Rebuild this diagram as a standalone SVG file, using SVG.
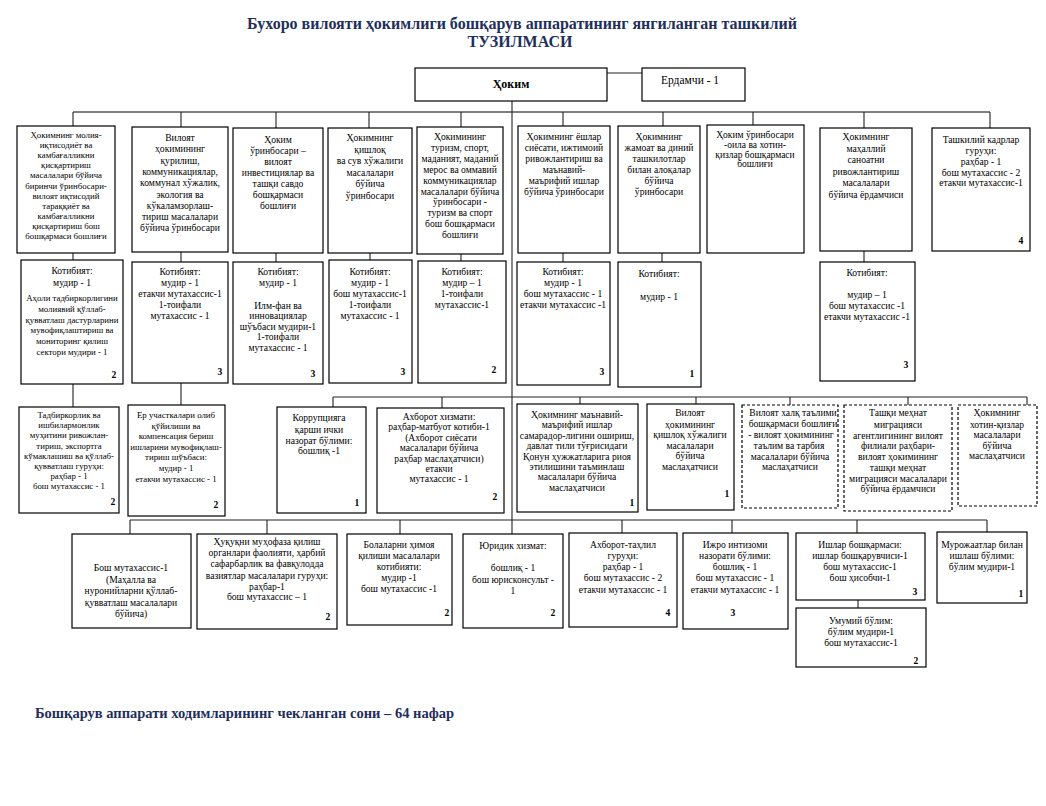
<svg xmlns="http://www.w3.org/2000/svg" width="1046" height="806" viewBox="0 0 1046 806">
<style>
text{font-family:"Liberation Serif","Times New Roman",serif;fill:#000;}
.t{font-size:9.6px;text-anchor:middle;}
.s{font-size:8.8px;text-anchor:middle;}
.n{font-size:9.6px;font-weight:bold;text-anchor:middle;}
.title{font-size:16px;font-weight:bold;fill:#1f2f5c;text-anchor:middle;}
.foot{font-size:14.5px;font-weight:bold;fill:#1f2f5c;}
rect{fill:#fff;stroke:#000;stroke-width:1.2;}
rect.d{stroke-dasharray:3,2;}
#connectors path{fill:none;stroke:#222;stroke-width:1.1;}
</style>
<defs>
<clipPath id="clipC7"><rect x="742" y="405" width="96" height="103"/></clipPath>
</defs>
<rect x="0" y="0" width="1046" height="806" style="fill:#fff;stroke:none"/>
<text class="title" x="522" y="29">Бухоро вилояти ҳокимлиги бошқарув аппаратининг  янгиланган ташкилий</text>
<text class="title" x="520" y="47">ТУЗИЛМАСИ</text>

<g id="connectors">
<path d="M73,112 H990" style="stroke:#555;stroke-width:1.6"/>
<path d="M512,101 V534"/>
<path d="M607,73 H642"/>
<path d="M73,112 V128 M181,112 V128 M276,112 V128 M369,112 V128 M461,112 V128 M563,112 V128 M663,112 V128 M753,112 V128 M864,112 V128 M990,112 V128"/>
<path d="M73,253 V262 M181,252 V262 M276,253 V262 M370,253 V262 M461,254 V262 M563,253 V262 M662,253 V262 M864,251 V262"/>
<path d="M73,384 V407 M181,383 V405"/>
<path d="M333,397 H1027 M333,397 V407 M442,397 V408 M580,397 V404 M696,397 V404 M790,397 V405 M908,397 V405 M1027,397 V405"/>
<path d="M130,520 H987 M130,520 V534 M267,520 V534 M400,520 V534 M622,520 V533 M732,520 V533 M857,520 V533 M987,520 V532"/>
<path d="M858,600 V608"/>
</g>

<g id="hokim"><rect x="415" y="68" width="192" height="33"/><text x="511" y="88" style="font-size:12px;font-weight:bold;text-anchor:middle">Ҳоким</text></g>
<g id="yordamchi"><rect x="642" y="68" width="103" height="33"/><text x="661" y="84" style="font-size:11.5px">Ердамчи - 1</text></g>

<!-- Row 1 -->
<g id="r1b1"><rect x="17" y="126" width="98" height="127"/>
<text class="s" x="66" y="138"><tspan x="66">Ҳокимнинг молия-</tspan><tspan x="66" dy="10.1">иқтисодиёт ва</tspan><tspan x="66" dy="10.1">камбағалликни</tspan><tspan x="66" dy="10.1">қисқартириш</tspan><tspan x="66" dy="10.1">масалалари бўйича</tspan><tspan x="66" dy="10.1">биринчи ўринбосари-</tspan><tspan x="66" dy="10.1">вилоят иқтисодий</tspan><tspan x="66" dy="10.1">тараққиёт ва</tspan><tspan x="66" dy="10.1">камбағалликни</tspan><tspan x="66" dy="10.1">қисқартириш бош</tspan><tspan x="66" dy="10.1">бошқармаси бошлиғи</tspan></text></g>
<g id="r1b2"><rect x="132" y="127" width="96" height="125"/>
<text class="t" x="180" y="141"><tspan x="180">Вилоят</tspan><tspan x="180" dy="11.3">ҳокимининг</tspan><tspan x="180" dy="11.3">қурилиш,</tspan><tspan x="180" dy="11.3">коммуникациялар,</tspan><tspan x="180" dy="11.3">коммунал хўжалик,</tspan><tspan x="180" dy="11.3">экология ва</tspan><tspan x="180" dy="11.3">кўкаламзорлаш-</tspan><tspan x="180" dy="11.3">тириш масалалари</tspan><tspan x="180" dy="11.3">бўйича ўринбосари</tspan></text></g>
<g id="r1b3"><rect x="233" y="128" width="90" height="125"/>
<text class="t" x="278" y="143"><tspan x="278">Ҳоким</tspan><tspan x="278" dy="11">ўринбосари –</tspan><tspan x="278" dy="11">вилоят</tspan><tspan x="278" dy="11">инвестициялар ва</tspan><tspan x="278" dy="11">ташқи савдо</tspan><tspan x="278" dy="11">бошқармаси</tspan><tspan x="278" dy="11">бошлиғи</tspan></text></g>
<g id="r1b4"><rect x="328" y="128" width="84" height="125"/>
<text class="t" x="370" y="141"><tspan x="370">Ҳокимнинг</tspan><tspan x="370" dy="11.5">қишлоқ</tspan><tspan x="370" dy="11.5">ва сув хўжалиги</tspan><tspan x="370" dy="11.5">масалалари</tspan><tspan x="370" dy="11.5">бўйича</tspan><tspan x="370" dy="11.5">ўринбосари</tspan></text></g>
<g id="r1b5"><rect x="417" y="127" width="86" height="127"/>
<text class="t" x="460" y="140"><tspan x="460">Ҳокимининг</tspan><tspan x="460" dy="10.9">туризм, спорт,</tspan><tspan x="460" dy="10.9">маданият, маданий</tspan><tspan x="460" dy="10.9">мерос ва оммавий</tspan><tspan x="460" dy="10.9">коммуникациялар</tspan><tspan x="460" dy="10.9">масалалари бўйича</tspan><tspan x="460" dy="10.9">ўринбосари -</tspan><tspan x="460" dy="10.9">туризм ва спорт</tspan><tspan x="460" dy="10.9">бош бошқармаси</tspan><tspan x="460" dy="10.9">бошлиғи</tspan></text></g>
<g id="r1b6"><rect x="518" y="126" width="92" height="127"/>
<text class="t" x="564" y="140"><tspan x="564">Ҳокимнинг ёшлар</tspan><tspan x="564" dy="11">сиёсати, ижтимоий</tspan><tspan x="564" dy="11">ривожлантириш ва</tspan><tspan x="564" dy="11">маънавий-</tspan><tspan x="564" dy="11">маърифий ишлар</tspan><tspan x="564" dy="11">бўйича ўринбосари</tspan></text></g>
<g id="r1b7"><rect x="618" y="126" width="82" height="127"/>
<text class="t" x="659" y="140"><tspan x="659">Ҳокимнинг</tspan><tspan x="659" dy="11">жамоат ва диний</tspan><tspan x="659" dy="11">ташкилотлар</tspan><tspan x="659" dy="11">билан алоқалар</tspan><tspan x="659" dy="11">бўйича</tspan><tspan x="659" dy="11">ўринбосари</tspan></text></g>
<g id="r1b8"><rect x="707" y="125" width="97" height="128"/>
<text x="755" y="138" style="font-size:9.5px;text-anchor:middle"><tspan x="755">Ҳоким ўринбосари</tspan><tspan x="755" dy="9.8">-оила ва хотин-</tspan><tspan x="755" dy="9.8">қизлар бошқармаси</tspan><tspan x="755" dy="9.8">бошлиғи</tspan></text></g>
<g id="r1b9"><rect x="820" y="128" width="92" height="123"/>
<text class="t" x="866" y="140"><tspan x="866">Ҳокимнинг</tspan><tspan x="866" dy="11.5">маҳаллий</tspan><tspan x="866" dy="11.5">саноатни</tspan><tspan x="866" dy="11.5">ривожлантириш</tspan><tspan x="866" dy="11.5">масалалари</tspan><tspan x="866" dy="11.5">бўйича ёрдамчиси</tspan></text></g>
<g id="r1b10"><rect x="932" y="128" width="98" height="123"/>
<text class="t" x="981" y="143"><tspan x="981">Ташкилий кадрлар</tspan><tspan x="981" dy="11">гуруҳи:</tspan><tspan x="981" dy="11">раҳбар - 1</tspan><tspan x="981" dy="10.5">бош мутахассис - 2</tspan><tspan x="981" dy="10.5">етакчи мутахассис-1</tspan></text>
<text class="n" x="1021" y="244">4</text></g>

<!-- Row 2 -->
<g id="r2b1"><rect x="21" y="260" width="102" height="124"/>
<text class="t" x="72" y="274"><tspan x="72">Котибият:</tspan><tspan x="72" dy="11.5">мудир - 1</tspan></text>
<text class="s" x="72" y="301"><tspan x="72">Аҳоли тадбиркорлигини</tspan><tspan x="72" dy="10.8">молиявий қўллаб-</tspan><tspan x="72" dy="10.8">қувватлаш дастурларини</tspan><tspan x="72" dy="10.8">мувофиқлаштириш ва</tspan><tspan x="72" dy="10.8">мониторинг қилиш</tspan><tspan x="72" dy="10.8">сектори мудири - 1</tspan></text>
<text class="n" x="114" y="378">2</text></g>
<g id="r2b2"><rect x="132" y="262" width="96" height="121"/>
<text class="t" x="180" y="274.5"><tspan x="180">Котибият:</tspan><tspan x="180" dy="11">мудир - 1</tspan><tspan x="180" dy="11">етакчи мутахассис-1</tspan><tspan x="180" dy="11.5">1-тоифали</tspan><tspan x="180" dy="10.5">мутахассис - 1</tspan></text>
<text class="n" x="220" y="375">3</text></g>
<g id="r2b3"><rect x="233" y="262" width="90" height="122"/>
<text class="t" x="278" y="274.5"><tspan x="278">Котибият:</tspan><tspan x="278" dy="11">мудир - 1</tspan><tspan x="278" dy="23">Илм-фан ва</tspan><tspan x="278" dy="10.5">инновациялар</tspan><tspan x="278" dy="10.5">шўъбаси мудири-1</tspan><tspan x="278" dy="10.5">1-тоифали</tspan><tspan x="278" dy="10.5">мутахассис - 1</tspan></text>
<text class="n" x="313" y="377">3</text></g>
<g id="r2b4"><rect x="329" y="260" width="83" height="123"/>
<text class="t" x="370" y="274.5"><tspan x="370">Котибият:</tspan><tspan x="370" dy="11">мудир - 1</tspan><tspan x="370" dy="11">бош мутахассис-1</tspan><tspan x="370" dy="11.5">1-тоифали</tspan><tspan x="370" dy="10.5">мутахассис - 1</tspan></text>
<text class="n" x="403" y="375">3</text></g>
<g id="r2b5"><rect x="418" y="261" width="88" height="122"/>
<text class="t" x="462" y="274.5"><tspan x="462">Котибият:</tspan><tspan x="462" dy="11">мудир – 1</tspan><tspan x="462" dy="11">1-тоифали</tspan><tspan x="462" dy="11.5">мутахассис-1</tspan></text>
<text class="n" x="494" y="373">2</text></g>
<g id="r2b6"><rect x="517" y="262" width="93" height="123"/>
<text class="t" x="563" y="274.5"><tspan x="563">Котибият:</tspan><tspan x="563" dy="11">мудир - 1</tspan><tspan x="563" dy="11">бош мутахассис - 1</tspan><tspan x="563" dy="11">етакчи мутахассис -1</tspan></text>
<text class="n" x="602" y="375">3</text></g>
<g id="r2b7"><rect x="618" y="262" width="83" height="125"/>
<text class="t" x="659" y="277"><tspan x="659">Котибият:</tspan><tspan x="659" dy="22.5">мудир - 1</tspan></text>
<text class="n" x="692" y="377">1</text></g>
<g id="r2b8"><rect x="820" y="262" width="95" height="119"/>
<text class="t" x="867" y="276"><tspan x="867">Котибият:</tspan><tspan x="867" dy="22">мудир – 1</tspan><tspan x="867" dy="11">бош мутахассис -1</tspan><tspan x="867" dy="10.5">етакчи мутахассис -1</tspan></text>
<text class="n" x="906" y="368">3</text></g>

<!-- Row 3 -->
<g id="r3b1"><rect x="19" y="407" width="100" height="106"/>
<text class="s" x="69" y="418"><tspan x="69">Тадбиркорлик ва</tspan><tspan x="69" dy="10.2">ишбилармонлик</tspan><tspan x="69" dy="10.2">муҳитини ривожлан-</tspan><tspan x="69" dy="10.2">тириш, экспортга</tspan><tspan x="69" dy="10.2">кўмаклашиш ва қўллаб-</tspan><tspan x="69" dy="10.2">қувватлаш гуруҳи:</tspan><tspan x="69" dy="10.2">раҳбар - 1</tspan><tspan x="69" dy="10.2">бош мутахассис - 1</tspan></text>
<text class="n" x="113" y="505">2</text></g>
<g id="r3b2"><rect x="128" y="405" width="97" height="111"/>
<text class="s" x="176" y="418"><tspan x="176">Ер участкалари олиб</tspan><tspan x="176" dy="10.6">қўйилиши ва</tspan><tspan x="176" dy="10.6">компенсация бериш</tspan><tspan x="176" dy="10.6">ишларини мувофиқлаш-</tspan><tspan x="176" dy="10.6">тириш шўъбаси:</tspan><tspan x="176" dy="10.6">мудир - 1</tspan><tspan x="176" dy="10.6">етакчи мутахассис - 1</tspan></text>
<text class="n" x="216" y="508">2</text></g>
<g id="r3b3"><rect x="277" y="407" width="89" height="106"/>
<text class="t" x="319" y="421"><tspan x="319">Коррупцияга</tspan><tspan x="319" dy="11.5">қарши ички</tspan><tspan x="319" dy="11">назорат бўлими:</tspan><tspan x="319" dy="10.5">бошлиқ -1</tspan></text>
<text class="n" x="357" y="506">1</text></g>
<g id="r3b4"><rect x="377" y="408" width="127" height="105"/>
<text class="t" x="439" y="420"><tspan x="439">Ахборот хизмати:</tspan><tspan x="439" dy="10.4">раҳбар-матбуот котиби-1</tspan><tspan x="441" dy="10.4">(Ахборот сиёсати</tspan><tspan x="439" dy="10.4">масалалари бўйича</tspan><tspan x="439" dy="10.4">раҳбар маслаҳатчиси)</tspan><tspan x="439" dy="10.4">етакчи</tspan><tspan x="439" dy="10.4">мутахассис - 1</tspan></text>
<text class="n" x="495" y="500">2</text></g>
<g id="r3b5"><rect x="517" y="404" width="121" height="108"/>
<text class="t" x="577" y="418"><tspan x="577">Ҳокимнинг маънавий-</tspan><tspan x="577" dy="10.4">маърифий ишлар</tspan><tspan x="577" dy="10.4">самарадор-лигини ошириш,</tspan><tspan x="577" dy="10.4">давлат тили тўғрисидаги</tspan><tspan x="577" dy="10.4">Қонун ҳужжатларига риоя</tspan><tspan x="577" dy="10.4">этилишини таъминлаш</tspan><tspan x="577" dy="10.4">масалалари бўйича</tspan><tspan x="577" dy="10.4">маслаҳатчиси</tspan></text>
<text class="n" x="632" y="506">1</text></g>
<g id="r3b6"><rect x="647" y="404" width="87" height="106"/>
<text class="t" x="690" y="416"><tspan x="690">Вилоят</tspan><tspan x="690" dy="11.5">ҳокимининг</tspan><tspan x="690" dy="10.5">қишлоқ хўжалиги</tspan><tspan x="690" dy="10.5">масалалари</tspan><tspan x="690" dy="10.5">бўйича</tspan><tspan x="690" dy="10.5">маслаҳатчиси</tspan></text>
<text class="n" x="727" y="497">1</text></g>
<g id="r3b7"><rect class="d" x="742" y="405" width="96" height="103"/>
<text class="t" x="793" y="416" clip-path="url(#clipC7)"><tspan x="793">Вилоят халқ таълими</tspan><tspan x="793" dy="11">бошқармаси бошлиғи</tspan><tspan x="791" dy="11">- вилоят ҳокимининг</tspan><tspan x="789" dy="11">таълим ва тарбия</tspan><tspan x="790" dy="10.5">масалалари бўйича</tspan><tspan x="790" dy="10.5">маслаҳатчиси</tspan></text></g>
<g id="r3b8"><rect class="d" x="844" y="405" width="108" height="106"/>
<text class="t" x="898" y="416"><tspan x="898">Ташқи меҳнат</tspan><tspan x="898" dy="11.5">миграцияси</tspan><tspan x="898" dy="11">агентлигининг вилоят</tspan><tspan x="898" dy="10.8">филиали раҳбари-</tspan><tspan x="898" dy="10.8">вилоят ҳокимининг</tspan><tspan x="898" dy="10.8">ташқи меҳнат</tspan><tspan x="898" dy="10.8">миграцияси масалалари</tspan><tspan x="898" dy="10">бўйича ёрдамчиси</tspan></text></g>
<g id="r3b9"><rect class="d" x="958" y="405" width="79" height="101"/>
<text class="t" x="997" y="416"><tspan x="997">Ҳокимнинг</tspan><tspan x="997" dy="11.5">хотин-қизлар</tspan><tspan x="997" dy="10.8">масалалари</tspan><tspan x="997" dy="10.5">бўйича</tspan><tspan x="997" dy="10.5">маслаҳатчиси</tspan></text></g>

<!-- Row 4 -->
<g id="r4b1"><rect x="72" y="534" width="119" height="94"/>
<text class="t" x="131" y="571"><tspan x="131">Бош мутахассис-1</tspan><tspan x="131" dy="11.5">(Маҳалла ва</tspan><tspan x="131" dy="11.5">нуронийларни қўллаб-</tspan><tspan x="131" dy="11.5">қувватлаш масалалари</tspan><tspan x="131" dy="11">бўйича)</tspan></text></g>
<g id="r4b2"><rect x="197" y="534" width="140" height="95"/>
<text class="t" x="267" y="545"><tspan x="267">Ҳуқуқни муҳофаза қилиш</tspan><tspan x="267" dy="11.2">органлари фаолияти, ҳарбий</tspan><tspan x="267" dy="11.2">сафарбарлик ва фавқулодда</tspan><tspan x="267" dy="11.2">вазиятлар масалалари гуруҳи:</tspan><tspan x="267" dy="11.2">раҳбар-1</tspan><tspan x="267" dy="10.5">бош мутахассис – 1</tspan></text>
<text class="n" x="328" y="620">2</text></g>
<g id="r4b3"><rect x="347" y="534" width="105" height="91"/>
<text class="t" x="399" y="548"><tspan x="399">Болаларни ҳимоя</tspan><tspan x="399" dy="11">қилиши масалалари</tspan><tspan x="399" dy="11">котибияти:</tspan><tspan x="399" dy="11">мудир -1</tspan><tspan x="399" dy="11">бош мутахассис -1</tspan></text>
<text class="n" x="447" y="616">2</text></g>
<g id="r4b4"><rect x="463" y="534" width="100" height="94"/>
<text class="t" x="513" y="549"><tspan x="513">Юридик хизмат:</tspan><tspan x="513" dy="22">бошлиқ - 1</tspan><tspan x="513" dy="11.5">бош юрисконсульт -</tspan><tspan x="513" dy="11.5">1</tspan></text>
<text class="n" x="553" y="616">2</text></g>
<g id="r4b5"><rect x="569" y="533" width="108" height="94"/>
<text class="t" x="623" y="548"><tspan x="623">Ахборот-таҳлил</tspan><tspan x="623" dy="11">гуруҳи:</tspan><tspan x="623" dy="11">раҳбар - 1</tspan><tspan x="623" dy="11">бош мутахассис - 2</tspan><tspan x="623" dy="12">етакчи мутахассис - 1</tspan></text>
<text class="n" x="668" y="616">4</text></g>
<g id="r4b6"><rect x="683" y="533" width="105" height="96"/>
<text class="t" x="735" y="548"><tspan x="735">Ижро интизоми</tspan><tspan x="735" dy="11">назорати бўлими:</tspan><tspan x="735" dy="11">бошлиқ - 1</tspan><tspan x="735" dy="11">бош мутахассис - 1</tspan><tspan x="735" dy="11.5">етакчи мутахассис - 1</tspan></text>
<text class="n" x="733" y="616">3</text></g>
<g id="r4b7"><rect x="796" y="533" width="129" height="67"/>
<text class="t" x="860" y="548"><tspan x="860">Ишлар бошқармаси:</tspan><tspan x="860" dy="11">ишлар бошқарувчиси-1</tspan><tspan x="860" dy="11">бош мутахассис-1</tspan><tspan x="860" dy="11">бош ҳисобчи-1</tspan></text>
<text class="n" x="915" y="595">3</text></g>
<g id="r4b8"><rect x="937" y="532" width="90" height="71"/>
<text class="t" x="982" y="548"><tspan x="982">Мурожаатлар билан</tspan><tspan x="982" dy="11">ишлаш бўлими:</tspan><tspan x="982" dy="11">бўлим мудири-1</tspan></text>
<text class="n" x="1021" y="597">1</text></g>
<g id="r4b9"><rect x="796" y="608" width="130" height="59"/>
<text class="t" x="861" y="624"><tspan x="861">Умумий бўлим:</tspan><tspan x="861" dy="11">бўлим мудири-1</tspan><tspan x="861" dy="11">бош мутахассис-1</tspan></text>
<text class="n" x="916" y="664">2</text></g>

<text class="foot" x="35" y="718">Бошқарув аппарати ходимларининг чекланган сони – 64 нафар</text>
</svg>
